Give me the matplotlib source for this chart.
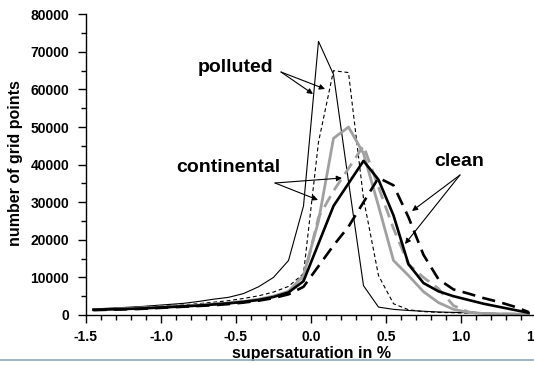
import numpy as np
import matplotlib
matplotlib.use('Agg')
import matplotlib.pyplot as plt
from matplotlib.ticker import MultipleLocator
from matplotlib.lines import Line2D

plt.rcParams['font.family'] = ['Liberation Sans', 'DejaVu Sans']
plt.rcParams['font.weight'] = 'bold'

# supersaturation bins (%)
ss = [-1.45, -1.35, -1.25, -1.15, -1.05, -0.95, -0.85, -0.75, -0.65, -0.55,
      -0.45, -0.35, -0.25, -0.15, -0.05, 0.05, 0.15, 0.25, 0.35, 0.45,
      0.55, 0.65, 0.75, 0.85, 0.95, 1.05, 1.15, 1.25, 1.35, 1.45]

polluted_a = [1600, 1800, 2000, 2200, 2500, 2800, 3100, 3600, 4200, 4700,
              5700, 7500, 10000, 14500, 29000, 72800, 64000, 35500, 7800, 2100,
              1500, 1200, 1000, 800, 700, 600, 500, 400, 300, 250]
polluted_b = [1500, 1700, 1900, 2100, 2300, 2500, 2700, 3000, 3400, 3800,
              4400, 5100, 6100, 7600, 11000, 46000, 65000, 64500, 31000, 10500,
              3000, 1400, 900, 700, 600, 500, 400, 350, 300, 250]
continental_a = [1400, 1500, 1700, 1800, 2000, 2200, 2400, 2600, 2900, 3200,
                 3600, 4200, 5000, 6300, 10500, 25000, 47000, 50000, 43000, 29000,
                 14500, 10500, 6200, 3300, 1500, 700, 400, 300, 250, 200]
continental_b = [1400, 1500, 1600, 1800, 2000, 2200, 2400, 2600, 2900, 3200,
                 3600, 4100, 4900, 6100, 9500, 26000, 33000, 39000, 45000, 34000,
                 23000, 13500, 10000, 7000, 2500, 800, 400, 300, 250, 200]
clean_a = [1400, 1500, 1600, 1700, 1900, 2100, 2300, 2500, 2800, 3100,
           3500, 4000, 4800, 6000, 9000, 19000, 29000, 35000, 41000, 36000,
           26500, 13500, 8500, 6300, 5000, 4000, 3000, 2200, 1400, 600]
clean_b = [1300, 1400, 1500, 1600, 1800, 2000, 2200, 2400, 2600, 2900,
           3300, 3800, 4500, 5500, 7500, 13000, 18500, 23500, 30000, 36500,
           34500, 26000, 16000, 9500, 6800, 5700, 4500, 3500, 2300, 800]

xticks = [-1.5, -1.0, -0.5, 0.0, 0.5, 1.0, 1.5]
xticklabels = ['-1.5', '-1.0', '-0.5', '0.0', '0.5', '1.0', '1.5']

fig = plt.figure(figsize=(5.34, 3.65), dpi=100)
ax = fig.add_axes([86/534, 50/365, 450/534, 300.7/365])

gray = '#a0a0a0'
ax.plot(ss, polluted_a, color='k', lw=0.8)
ax.plot(ss, polluted_b, color='k', lw=0.8, dashes=(3.5, 2.5))
ax.plot(ss, continental_a, color=gray, lw=2.0)
ax.plot(ss, continental_b, color=gray, lw=2.0, dashes=(4.5, 2.5))
ax.plot(ss, clean_a, color='k', lw=1.9)
ax.plot(ss, clean_b, color='k', lw=1.9, dashes=(5, 2.8))

ax.set_xlim(-1.5, 1.5)
ax.set_ylim(0, 80000)
ax.set_xticks(xticks)
ax.set_xticklabels(xticklabels)
ax.xaxis.set_minor_locator(MultipleLocator(0.1))
ax.yaxis.set_major_locator(MultipleLocator(10000))
ax.yaxis.set_minor_locator(MultipleLocator(5000))
ax.tick_params(which='major', length=6, width=1, labelsize=10, pad=5)
ax.tick_params(axis='y', which='major', pad=6)
ax.tick_params(which='minor', length=3.5, width=1)
for lab in ax.get_xticklabels() + ax.get_yticklabels():
    lab.set_fontweight('bold')

ax.spines['top'].set_visible(False)
ax.spines['right'].set_visible(False)
ax.spines['left'].set_linewidth(1)
ax.spines['bottom'].set_linewidth(1)

ax.set_xlabel('supersaturation in %', fontsize=11.5, fontweight='bold', labelpad=1)
fig.text(16/534, 1 - 163/365, 'number of grid points', rotation=90, fontsize=11.5,
         fontweight='bold', ha='center', va='center')

def px(x, y):
    # figure pixel -> data coords
    inv = ax.transData.inverted()
    return inv.transform((x, 365 - y))

fig.canvas.draw()
arrow = dict(arrowstyle='-|>', lw=0.8, color='k', mutation_scale=8, shrinkA=0, shrinkB=0)
ax.text(*px(236, 68), 'polluted', fontsize=14, fontweight='bold', ha='center', va='center')
for tip in [(325, 89), (313, 94)]:
    ax.annotate('', xy=px(*tip), xytext=px(281, 72), arrowprops=arrow)
ax.text(*px(228, 167), 'continental', fontsize=14, fontweight='bold', ha='center', va='center')
for tip in [(342, 178), (318, 200)]:
    ax.annotate('', xy=px(*tip), xytext=px(275, 183), arrowprops=arrow)
ax.text(*px(459, 162), 'clean', fontsize=14, fontweight='bold', ha='center', va='center')
for tip in [(412, 211), (405, 244)]:
    ax.annotate('', xy=px(*tip), xytext=px(460, 175), arrowprops=arrow)

fig.add_artist(Line2D([0, 1], [1 - 360/365, 1 - 360/365], transform=fig.transFigure,
                      color='#8ea9c1', lw=1.2))

fig.savefig('out.png', dpi=100)
